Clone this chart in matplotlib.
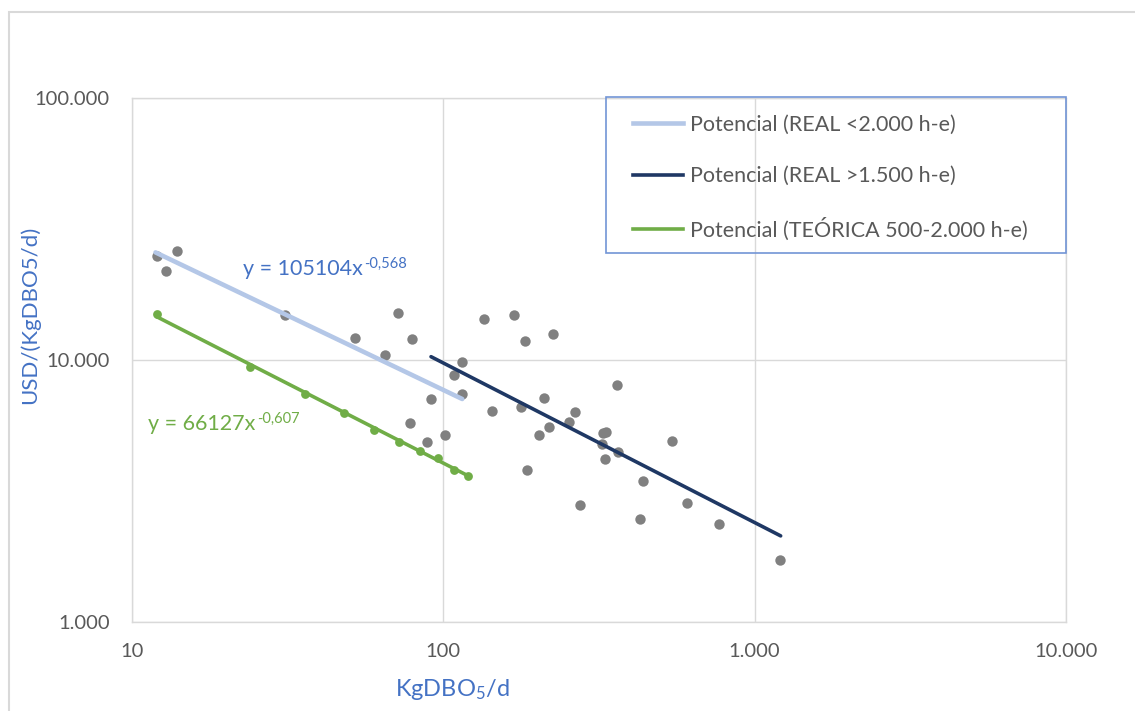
import numpy as np
import matplotlib
matplotlib.use('Agg')
import matplotlib.pyplot as plt
from matplotlib.lines import Line2D
from matplotlib.patches import Rectangle
from matplotlib.ticker import FixedLocator, FixedFormatter, NullLocator

plt.rcParams['font.family'] = ['Lato', 'DejaVu Sans']
plt.rcParams['mathtext.fontset'] = 'custom'
plt.rcParams['mathtext.rm'] = 'Lato'
plt.rcParams['mathtext.it'] = 'Lato'
plt.rcParams['mathtext.default'] = 'regular'

# Costes reales por planta (KgDBO5/d, USD/(KgDBO5/d))
real_x = [12.0, 14.0, 12.9, 31.0, 52.1, 71.3, 79.3, 65.1, 114.8, 108.5,
          114.8, 91.4, 77.9, 88.9, 101.5, 134.8, 169.2, 182.5, 224.6, 143.0,
          177.3, 210.1, 219.2, 203.0, 254.2, 264.4, 361.8, 326.2, 332.5, 322.9,
          329.4, 362.6, 186.2, 543.8, 437.4, 274.4, 604.4, 429.1, 765.9, 1209.0]
real_y = [25010, 26140, 21810, 14850, 12130, 15050, 12000, 10450, 9810, 8750,
          7420, 7070, 5765, 4873, 5164, 14380, 14890, 11860, 12570, 6390,
          6605, 7160, 5537, 5160, 5785, 6315, 8008, 5280, 5330, 4780,
          4200, 4455, 3804, 4920, 3444, 2803, 2846, 2479, 2366, 1724]

# Costes teoricos 500-2.000 h-e
teo_x = [12, 24, 36, 48, 60, 72, 84, 96, 108, 120]
teo_y = [15020, 9380, 7396, 6294, 5405, 4878, 4495, 4214, 3804, 3617]

# Ajustes potenciales y = a * x^b
fit_names = ['Potencial (REAL <2.000 h-e)', 'Potencial (REAL >1.500 h-e)',
             'Potencial (TEÓRICA 500-2.000 h-e)']
fit_a = [105104, 160900, 66127]
fit_b = [-0.568, -0.609, -0.607]
fit_xmin = [11.9, 91.3, 12]
fit_xmax = [115, 1212, 120]
fit_colors = ['#B4C7E7', '#1F3864', '#70AD47']
fit_widths = [3.3, 2.6, 2.6]

W, H = 1135, 711
fig = plt.figure(figsize=(W / 100, H / 100), dpi=100)
ax = fig.add_axes([132 / W, 1 - 622 / H, (1066 - 132) / W, (622 - 98) / H])

ax.set_xscale('log')
ax.set_yscale('log')
ax.set_xlim(10, 10000)
ax.set_ylim(1000, 100000)

ax.scatter(real_x, real_y, s=56, color='#808080', zorder=3, linewidths=0)

for i in range(3):
    xs = np.logspace(np.log10(fit_xmin[i]), np.log10(fit_xmax[i]), 100)
    ax.plot(xs, fit_a[i] * xs ** fit_b[i], color=fit_colors[i],
            lw=fit_widths[i], zorder=4, solid_capstyle='round')

ax.scatter(teo_x, teo_y, s=40, color='#70AD47', zorder=5, linewidths=0)

# ejes y rejilla
xt = [10, 100, 1000, 10000]
yt = [1000, 10000, 100000]
ax.xaxis.set_major_locator(FixedLocator(xt))
ax.xaxis.set_major_formatter(FixedFormatter(['10', '100', '1.000', '10.000']))
ax.xaxis.set_minor_locator(NullLocator())
ax.yaxis.set_major_locator(FixedLocator(yt))
ax.yaxis.set_major_formatter(FixedFormatter(['1.000', '10.000', '100.000']))
ax.yaxis.set_minor_locator(NullLocator())
ax.tick_params(axis='both', length=0, labelsize=14.5, labelcolor='#595959')
ax.tick_params(axis='x', pad=15)
ax.tick_params(axis='y', pad=16)
ax.grid(True, color='#D9D9D9', lw=1.0)
ax.set_axisbelow(True)
for sp in ax.spines.values():
    sp.set_color('#D9D9D9')
    sp.set_linewidth(1.0)


def ecuacion(x, y, coef, expo, color):
    base = fig.text(x / W, 1 - y / H, 'y = %dx' % coef, color=color,
                    fontsize=15.5, va='center', ha='left')
    ax.annotate(expo, xy=(1, 0.78), xycoords=base, xytext=(1, 0),
                textcoords='offset points', color=color, fontsize=10.5,
                va='center', ha='left')


ecuacion(243, 269, 105104, '-0,568', '#4472C4')
ecuacion(148, 424, 66127, '-0,607', '#70AD47')

# titulos de ejes
fig.text(30 / W, 1 - 315 / H, 'USD/(KgDBO5/d)', rotation=90, color='#4472C4',
         fontsize=16, ha='center', va='center')
fig.text(452 / W, 1 - 690 / H, 'KgDBO$_{5}$/d', color='#4472C4',
         fontsize=17, ha='center', va='center')

# leyenda
handles = [Line2D([], [], color=fit_colors[i], lw=fit_widths[i]) for i in range(3)]
leg = fig.legend(handles, fit_names, loc='upper left',
                 bbox_to_anchor=(622 / W, 1 - 104 / H), frameon=False,
                 fontsize=15.5, labelcolor='#595959', handlelength=2.35,
                 handletextpad=0.3, labelspacing=1.46, borderpad=0)
fig.add_artist(Rectangle((606 / W, 1 - 253 / H), (1066 - 606) / W, (253 - 97) / H,
                         transform=fig.transFigure, fill=False,
                         edgecolor='#7295D6', lw=1.2))

# marco exterior
fig.add_artist(Rectangle((9 / W, -0.1), 1.2, 1.1 - 12 / H,
                         transform=fig.transFigure, fill=False,
                         edgecolor='#D9D9D9', lw=1.5))

fig.savefig('out.png', dpi=100)
